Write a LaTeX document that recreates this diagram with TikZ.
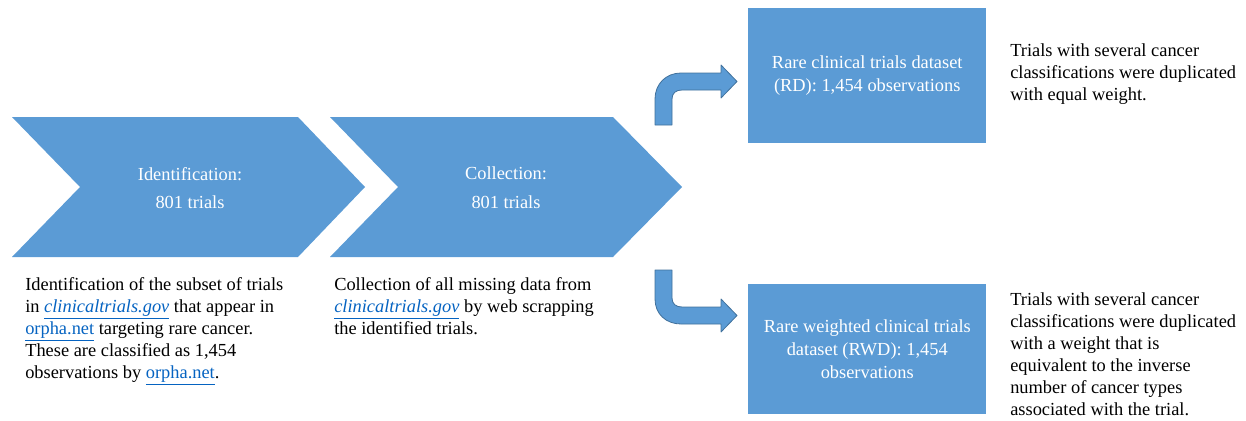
\documentclass[tikz,border=0pt]{standalone}
\usepackage{fontspec}
\setmainfont{Liberation Serif}
\definecolor{shapeblue}{HTML}{5B9BD5}
\definecolor{edgeblue}{HTML}{41719C}
\definecolor{linkblue}{HTML}{0563C1}
\newcommand{\lnk}[1]{{\color{linkblue}\underline{#1}}}
\begin{document}
\begin{tikzpicture}[x=0.75pt,y=-0.75pt,
  shapefill/.style={fill=shapeblue,draw=none},
  bentarrow/.style={fill=shapeblue,draw=edgeblue,line width=0.6pt,line join=round},
  intext/.style={text=white,align=center,font=\fontsize{13.8}{17}\selectfont,inner sep=0pt},
  chevtext/.style={text=white,align=center,font=\fontsize{13.8}{21.5}\selectfont,inner sep=0pt},
  bodytext/.style={text=black,align=left,font=\fontsize{13.8}{16.5}\selectfont,inner sep=0pt,anchor=north west}]
\useasboundingbox (0,0) rectangle (1246,421);
% chevrons
\path[shapefill] (12,117) -- (298,117) -- (365,187) -- (298,257) -- (12,257) -- (80,187) -- cycle;
\path[shapefill] (330,117) -- (613,117) -- (682,187) -- (613,257) -- (330,257) -- (398,187) -- cycle;
\node[chevtext] (ident) at (190,188) {Identification:\\801 trials};
\node[chevtext] (coll) at (506,188) {Collection:\\801 trials};
% boxes
\node[shapefill,minimum width=178.5pt,minimum height=101pt,anchor=north west,inner sep=0pt] (rd) at (748,8) {};
\node[intext] (rdtext) at (rd.center) {Rare clinical trials dataset\\(RD): 1,454 observations};
\node[shapefill,minimum width=178.5pt,minimum height=97.5pt,anchor=north west,inner sep=0pt] (rwd) at (748,284) {};
\node[intext] (rwdtext) at (rwd.center) {Rare weighted clinical trials\\dataset (RWD): 1,454\\observations};
% bent arrows
\path[bentarrow] (655,125) -- (655,99) .. controls (655,84) and (666,73) .. (681,73) -- (721,73) -- (721,65) -- (737,81.5) -- (721,98) -- (721,90) -- (682,90) .. controls (676,90) and (672,93) .. (672,99) -- (672,125) -- cycle;
\path[bentarrow] (655,270) -- (655,299) .. controls (655,314) and (666,324) .. (681,324) -- (721,324) -- (721,332) -- (737,315.5) -- (721,299) -- (721,307) -- (682,307) .. controls (676,307) and (672,304) .. (672,298) -- (672,270) -- cycle;
% texts
\node[bodytext] (t1) at (25,277) {Identification of the subset of trials\\in \lnk{\textit{clinicaltrials.gov}} that appear in\\\lnk{orpha.net} targeting rare cancer.\\These are classified as 1,454\\observations by \lnk{orpha.net}.};
\node[bodytext] (t2) at (334,277) {Collection of all missing data from\\\lnk{\textit{clinicaltrials.gov}} by web scrapping\\the identified trials.};
\node[bodytext] (t3) at (1010,43) {Trials with several cancer\\classifications were duplicated\\with equal weight.};
\node[bodytext] (t4) at (1010,292) {Trials with several cancer\\classifications were duplicated\\with a weight that is\\equivalent to the inverse\\number of cancer types\\associated with the trial.};
\end{tikzpicture}
\end{document}
